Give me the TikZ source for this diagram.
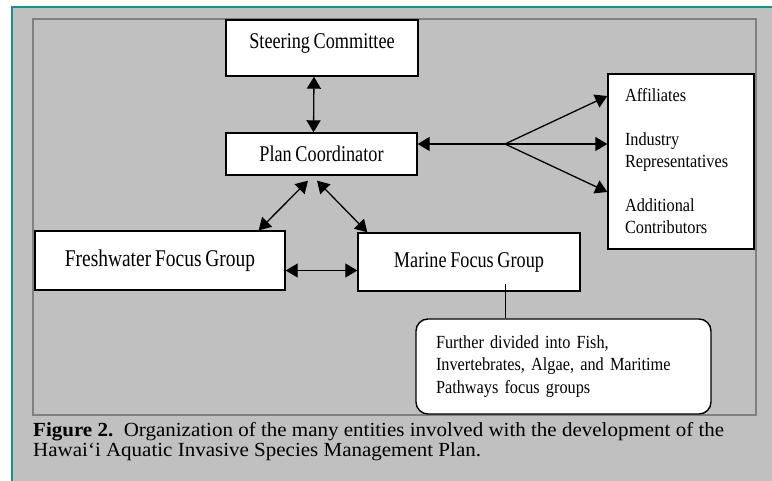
\documentclass[tikz,border=0pt]{standalone}
\usepackage{fontspec}
\setmainfont{Liberation Serif}
\newfontfamily\boxfont[FakeStretch=0.81, WordSpace=0.8]{Liberation Serif}
\newfontfamily\listfont[FakeStretch=0.88, WordSpace=0.7]{Liberation Serif}
\newfontfamily\capfont[FakeStretch=1.05]{Liberation Serif}
\usetikzlibrary{arrows.meta,positioning,calc}
\definecolor{panelgray}{RGB}{192,192,192}
\definecolor{framegray}{RGB}{128,128,128}
\definecolor{frameteal}{RGB}{20,145,145}

\begin{document}
\begin{tikzpicture}[x=1pt, y=-1pt,
  >={Triangle[length=12pt,width=14pt]},
  box/.style={draw, line width=1.4pt, fill=white, inner sep=0pt,
              font=\boxfont\fontsize{22.5}{26}\selectfont},
  listbox/.style={draw, line width=1.4pt, fill=white, align=left,
                  font=\listfont\fontsize{18.5}{22}\selectfont},
  link/.style={line width=1.3pt},
]
\useasboundingbox (0,0) rectangle (772,481);
\fill[white] (0,0) rectangle (772,481);

% Frames
\draw[frameteal, line width=2pt, fill=panelgray] (12,7) rectangle (790,500);
\draw[framegray, line width=2pt] (33,19) rectangle (756,415);

% Row 1: steering committee
\node[box, minimum width=192pt, minimum height=56pt, text depth=13pt] (steer) at (322,48)
  {Steering Committee};

% Row 2: coordinator and outside entities
\node[box, minimum width=191pt, minimum height=42pt] (plan) at (321.5,154)
  {Plan Coordinator};
\node[listbox, minimum width=146pt, minimum height=175pt, text width=112pt,
      inner xsep=17pt] (extras) at (681,161.5)
  {Affiliates\\[22pt]Industry\\Representatives\\[22pt]Additional\\Contributors};

% Row 3: focus groups
\node[box, minimum width=250pt, minimum height=59pt,
      font=\boxfont\fontsize{24}{28}\selectfont] (fresh) at (160,260.5)
  {Freshwater Focus Group};
\node[box, minimum width=222pt, minimum height=58pt] (marine) at (469,262)
  {Marine Focus Group};

% Row 4: note on the marine group
\node[listbox, rounded corners=12pt, minimum width=295pt, minimum height=95pt,
      text width=255pt, inner xsep=20pt,
      font=\listfont\fontsize{18.5}{22.5}\selectfont] (note) at (563.5,366.5)
  {Further divided into Fish,\\Invertebrates, Algae, and Maritime\\Pathways focus groups};

% Caption
\node[anchor=north west, inner sep=0pt, align=left,
      font=\capfont\fontsize{20}{16.5}\selectfont] (caption) at (33,422.5)
  {\textbf{Figure 2.}\ \ Organization of the many entities involved with the development of the\\
   Hawai‘i Aquatic Invasive Species Management Plan.};

% Arrows: steering committee <-> coordinator
\draw[link, <->] ([xshift=-8pt]steer.south) -- ([xshift=-8pt]plan.north);
% Arrows: coordinator <-> outside entities (fan out)
\coordinate (hub) at (505,144);
\draw[link, <-] (plan.east |- hub) -- (hub);
\foreach \dy in {48,0,-48}
  \draw[link, ->] (hub) -- ([yshift=\dy pt]hub -| extras.west);
% Arrows: coordinator <-> focus groups
\draw[link, <->] ([shift={(-13.5pt,-5pt)}]plan.south) -- ([xshift=-27pt]fresh.north east);
\draw[link, <->] ([shift={(-4.5pt,-5pt)}]plan.south) -- ([xshift=10pt]marine.north west);
\draw[link, <->] ([yshift=-10pt]fresh.east) -- ([yshift=-10pt]fresh.east -| marine.west);
% Line: marine group -> note
\coordinate (drop) at ([shift={(-75pt,8pt)}]marine.south east);
\draw[link] (drop) -- (drop |- note.north);
\end{tikzpicture}
\end{document}
